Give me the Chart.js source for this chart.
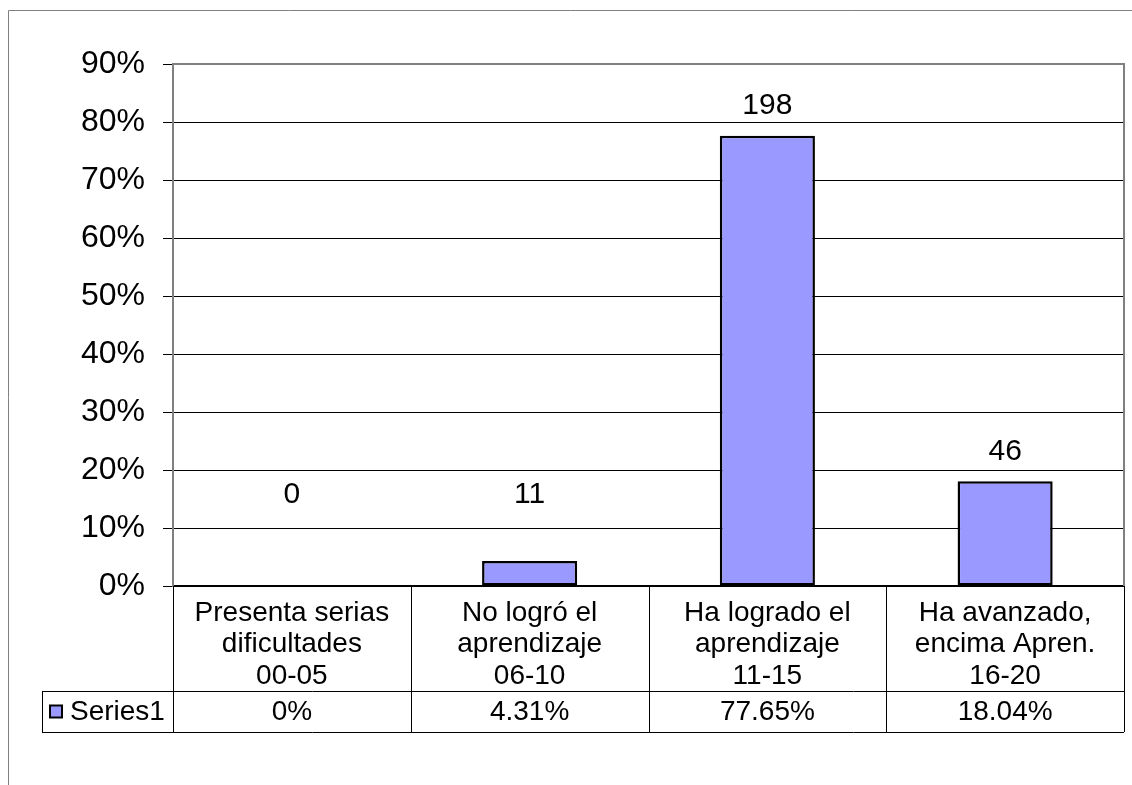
<!DOCTYPE html>
<html>
<head>
<meta charset="utf-8">
<script src="https://cdn.jsdelivr.net/npm/chart.js@4/dist/chart.umd.min.js"></script>
<style>
  html, body { margin: 0; padding: 0; background: #fff; }
  #wrap { width: 1132px; height: 785px; position: relative; }
</style>
</head>
<body>
<div id="wrap"><canvas id="chart"></canvas></div>
<script>
const categories = [
    ["Presenta serias", "dificultades", "00-05"],
    ["No logró el", "aprendizaje", "06-10"],
    ["Ha logrado el", "aprendizaje", "11-15"],
    ["Ha avanzado,", "encima Apren.", "16-20"]
];
const seriesName = "Series1";
const percents = [0, 4.31, 77.65, 18.04];
const counts = [0, 11, 198, 46];
const yTicks = [0, 10, 20, 30, 40, 50, 60, 70, 80, 90];

const FONT = "'Liberation Sans', Arial, sans-serif";
const BAR_COLOR = "#9999FF";

// outer frame, plot border, data table and count labels
const extras = {
    id: "extras",
    beforeDraw(chart) {
        const ctx = chart.ctx;
        ctx.save();
        ctx.strokeStyle = "#808080";
        ctx.lineWidth = 1;
        ctx.beginPath();
        ctx.moveTo(8.5, chart.height);
        ctx.lineTo(8.5, 10.5);
        ctx.lineTo(chart.width, 10.5);
        ctx.stroke();
        ctx.restore();
    },
    afterDatasetsDraw(chart) {
        const ctx = chart.ctx;
        const area = chart.chartArea;
        const x = chart.scales.x;
        const y = chart.scales.y;
        const half = (area.right - area.left) / categories.length / 2;
        const rowTop = area.bottom + 105;
        const rowBottom = rowTop + 41;
        const tableLeft = 42;

        ctx.save();
        // plot area border (top and right)
        ctx.strokeStyle = "#808080";
        ctx.lineWidth = 2;
        ctx.beginPath();
        ctx.moveTo(area.left, area.top);
        ctx.lineTo(area.right, area.top);
        ctx.lineTo(area.right, area.bottom);
        ctx.stroke();

        // table grid
        ctx.strokeStyle = "#000";
        ctx.lineWidth = 1;
        ctx.beginPath();
        for (let i = 0; i <= categories.length; i++) {
            const cx = Math.round(i < categories.length ? x.getPixelForValue(i) - half : x.getPixelForValue(i - 1) + half) + 0.5;
            ctx.moveTo(cx, area.bottom);
            ctx.lineTo(cx, rowBottom);
        }
        ctx.moveTo(tableLeft + 0.5, rowTop);
        ctx.lineTo(tableLeft + 0.5, rowBottom);
        ctx.moveTo(tableLeft, rowTop + 0.5);
        ctx.lineTo(area.right, rowTop + 0.5);
        ctx.moveTo(tableLeft, rowBottom + 0.5);
        ctx.lineTo(area.right, rowBottom + 0.5);
        ctx.stroke();

        // legend key + series name
        const midRow = (rowTop + rowBottom) / 2;
        ctx.fillStyle = BAR_COLOR;
        ctx.fillRect(50, midRow - 6, 12, 12);
        ctx.lineWidth = 2;
        ctx.strokeRect(50, midRow - 6, 12, 12);
        ctx.fillStyle = "#000";
        ctx.font = "28px " + FONT;
        ctx.textBaseline = "middle";
        ctx.textAlign = "left";
        ctx.fillText(seriesName, 70, midRow + 1);

        // percent row
        ctx.textAlign = "center";
        percents.forEach((v, i) => {
            ctx.fillText(+v.toFixed(2) + "%", x.getPixelForValue(i), midRow + 1);
        });

        // count labels above bars
        ctx.font = "30px " + FONT;
        const meta = chart.getDatasetMeta(0);
        meta.data.forEach((bar, i) => {
            const top = Math.min(bar.y, y.getPixelForValue(10.5));
            ctx.fillText(String(counts[i]), bar.x, top - 30);
        });
        ctx.restore();
    }
};

new Chart(document.getElementById("chart"), {
    type: "bar",
    data: {
        labels: categories,
        datasets: [{
            label: seriesName,
            data: percents,
            backgroundColor: BAR_COLOR,
            borderColor: "#000",
            borderWidth: 2.5,
            borderSkipped: false,
            barPercentage: 0.4,
            categoryPercentage: 1.0
        }]
    },
    options: {
        responsive: true,
        maintainAspectRatio: false,
        animation: false,
        layout: { padding: { left: 0, top: 64, right: 8, bottom: 94 } },
        plugins: {
            legend: { display: false },
            tooltip: { enabled: false }
        },
        scales: {
            x: {
                grid: { display: false },
                border: { display: true, color: "#000", width: 2 },
                ticks: {
                    color: "#000",
                    font: { family: FONT, size: 28, lineHeight: 1.13 },
                    padding: 3,
                    maxRotation: 0,
                    autoSkip: false
                },
                afterFit(scale) { scale.height = 105; }
            },
            y: {
                min: 0,
                max: 90,
                afterBuildTicks(scale) { scale.ticks = yTicks.map(v => ({ value: v })); },
                grid: {
                    color: ctx => (ctx.tick && ctx.tick.value === 90 ? "#808080" : "#000"),
                    tickColor: "#000",
                    tickLength: 10,
                    lineWidth: 1
                },
                border: { display: true, color: "#808080", width: 2 },
                ticks: {
                    color: "#000",
                    font: { family: FONT, size: 32 },
                    padding: 18,
                    callback: v => v + "%"
                },
                afterFit(scale) { scale.width = 173; }
            }
        }
    },
    plugins: [extras]
});
</script>
</body>
</html>
